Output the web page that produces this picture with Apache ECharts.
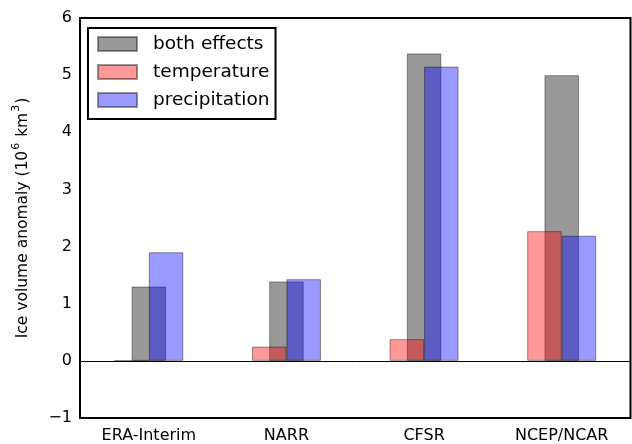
<!DOCTYPE html>
<html>
<head>
<meta charset="utf-8">
<script src="https://cdn.jsdelivr.net/npm/echarts@6/dist/echarts.min.js"></script>
<style>
  html, body { margin: 0; padding: 0; background: #fff; }
  #container { width: 632px; height: 444px; }
</style>
</head>
<body>
<div id="container"></div>
<script>
var categories = ['ERA-Interim', 'NARR', 'CFSR', 'NCEP/NCAR'];
var bothEffects = [1.30, 1.39, 5.38, 5.00];
var temperature = [0.0, 0.25, 0.38, 2.27];
var precipitation = [1.90, 1.43, 5.15, 2.19];
var yTicks = [-1, 0, 1, 2, 3, 4, 5, 6];

var dom = document.getElementById('container');
var myChart = echarts.init(dom);
var font = 'DejaVu Sans';

var tickStyle = { inside: true, length: 10, lineStyle: { color: '#000', width: 1 } };

option = {
    animation: false,
    textStyle: { fontFamily: font },
    grid: {
        left: 80, right: 1.5, top: 18, bottom: 26,
        outerBoundsMode: 'none',
        containLabel: false,
        show: true, borderColor: '#000', borderWidth: 2
    },
    legend: {
        orient: 'vertical',
        left: 88, top: 28,
        data: ['both effects', 'temperature', 'precipitation'],
        icon: 'rect',
        itemWidth: 39, itemHeight: 14,
        itemGap: 8,
        padding: [6, 6, 9, 9],
        borderColor: '#000', borderWidth: 2,
        backgroundColor: '#fff',
        textStyle: { fontFamily: font, fontSize: 18.5, color: '#000', padding: [0, 0, 0, 11], lineHeight: 20 }
    },
    xAxis: [{
        type: 'category',
        data: categories,
        axisLine: { show: false, onZero: false },
        axisTick: Object.assign({ alignWithLabel: true }, tickStyle),
        axisLabel: { color: '#000', fontSize: 16, margin: 10, fontFamily: font },
        splitLine: { show: false }
    }, {
        type: 'category',
        position: 'top',
        data: categories,
        axisLine: { show: false, onZero: false },
        axisTick: Object.assign({ alignWithLabel: true }, tickStyle),
        axisLabel: { show: false },
        splitLine: { show: false }
    }],
    yAxis: [{
        type: 'value',
        min: yTicks[0], max: yTicks[yTicks.length - 1], interval: 1,
        name: '{n|Ice volume anomaly (10}{s|6}{n| km}{s|3}{n|)}',
        nameLocation: 'middle',
        nameGap: 49,
        nameTextStyle: {
            color: '#000', fontSize: 15.5, fontFamily: font,
            rich: {
                n: { color: '#000', fontSize: 15.5, fontFamily: font, lineHeight: 20, verticalAlign: 'bottom' },
                s: { color: '#000', fontSize: 11, fontFamily: font, lineHeight: 20, verticalAlign: 'top', padding: [0, 1, 0, 1] }
            }
        },
        axisLine: { show: false },
        axisTick: tickStyle,
        axisLabel: {
            color: '#000', fontSize: 16, margin: 8, fontFamily: font,
            formatter: function (v) { return v < 0 ? '\u2212' + Math.abs(v) : String(v); }
        },
        splitLine: { show: false }
    }, {
        type: 'value',
        position: 'right',
        min: yTicks[0], max: yTicks[yTicks.length - 1], interval: 1,
        axisLine: { show: false },
        axisTick: tickStyle,
        axisLabel: { show: false },
        splitLine: { show: false }
    }],
    series: [{
        name: 'temperature',
        type: 'bar',
        z: 3,
        data: temperature,
        barWidth: 34.5,
        barGap: '-50%',
        itemStyle: { color: 'rgba(255,0,0,0.4)', borderColor: 'rgba(0,0,0,0.4)', borderWidth: 1 }
    }, {
        name: 'both effects',
        type: 'bar',
        z: 2,
        data: bothEffects,
        barWidth: 34.5,
        barGap: '-50%',
        itemStyle: { color: 'rgba(0,0,0,0.4)', borderColor: 'rgba(0,0,0,0.4)', borderWidth: 1 }
    }, {
        name: 'precipitation',
        type: 'bar',
        z: 3,
        data: precipitation,
        barWidth: 34.5,
        barGap: '-50%',
        itemStyle: { color: 'rgba(0,0,255,0.4)', borderColor: 'rgba(0,0,0,0.4)', borderWidth: 1 },
        markLine: {
            silent: true,
            symbol: 'none',
            label: { show: false },
            lineStyle: { color: '#000', width: 1, type: 'solid' },
            data: [{ yAxis: 0 }]
        }
    }]
};

if (option && typeof option === 'object') {
    myChart.setOption(option, true);
}
</script>
</body>
</html>
